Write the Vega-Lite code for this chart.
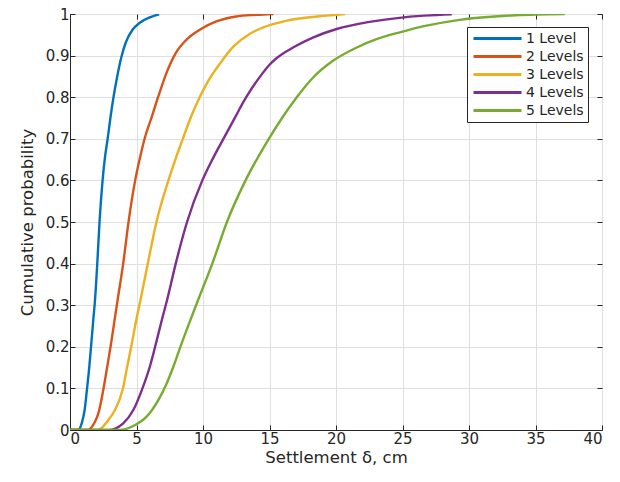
{
  "$schema": "https://vega.github.io/schema/vega-lite/v6.json",
  "width": 532,
  "height": 416,
  "autosize": {"type": "none"},
  "padding": {"left": 70, "top": 14, "right": 18, "bottom": 52},
  "background": "white",
  "config": {
    "font": "DejaVu Sans",
    "view": {"stroke": "#262626", "strokeWidth": 1},
    "axis": {
      "domainColor": "#262626",
      "tickColor": "#262626",
      "labelColor": "#262626",
      "titleColor": "#262626",
      "labelFontSize": 15,
      "titleFontSize": 16.5,
      "titleFontWeight": "normal",
      "gridColor": "#dfdfdf",
      "tickSize": -5,
      "labelPadding": 6
    }
  },
  "data": {"values": [
    {"x": 0, "p": 0, "s": "1 Level"},
    {"x": 0.6, "p": 0, "s": "1 Level"},
    {"x": 0.88, "p": 0.016, "s": "1 Level"},
    {"x": 1.1, "p": 0.048, "s": "1 Level"},
    {"x": 1.27, "p": 0.096, "s": "1 Level"},
    {"x": 1.45, "p": 0.152, "s": "1 Level"},
    {"x": 1.58, "p": 0.2, "s": "1 Level"},
    {"x": 1.75, "p": 0.264, "s": "1 Level"},
    {"x": 1.88, "p": 0.3125, "s": "1 Level"},
    {"x": 2.05, "p": 0.4, "s": "1 Level"},
    {"x": 2.22, "p": 0.5, "s": "1 Level"},
    {"x": 2.45, "p": 0.6, "s": "1 Level"},
    {"x": 2.62, "p": 0.653, "s": "1 Level"},
    {"x": 2.83, "p": 0.7, "s": "1 Level"},
    {"x": 3.05, "p": 0.753, "s": "1 Level"},
    {"x": 3.27, "p": 0.8, "s": "1 Level"},
    {"x": 3.55, "p": 0.85, "s": "1 Level"},
    {"x": 3.85, "p": 0.895, "s": "1 Level"},
    {"x": 4.2, "p": 0.932, "s": "1 Level"},
    {"x": 4.7, "p": 0.962, "s": "1 Level"},
    {"x": 5.25, "p": 0.979, "s": "1 Level"},
    {"x": 6.0, "p": 0.992, "s": "1 Level"},
    {"x": 6.7, "p": 0.999, "s": "1 Level"},
    {"x": 0, "p": 0, "s": "2 Levels"},
    {"x": 1.3, "p": 0, "s": "2 Levels"},
    {"x": 1.7, "p": 0.01, "s": "2 Levels"},
    {"x": 2.2, "p": 0.048, "s": "2 Levels"},
    {"x": 2.5, "p": 0.096, "s": "2 Levels"},
    {"x": 2.8, "p": 0.152, "s": "2 Levels"},
    {"x": 3.05, "p": 0.2, "s": "2 Levels"},
    {"x": 3.35, "p": 0.264, "s": "2 Levels"},
    {"x": 3.58, "p": 0.3125, "s": "2 Levels"},
    {"x": 4.0, "p": 0.4, "s": "2 Levels"},
    {"x": 4.4, "p": 0.5, "s": "2 Levels"},
    {"x": 4.9, "p": 0.6, "s": "2 Levels"},
    {"x": 5.3, "p": 0.66, "s": "2 Levels"},
    {"x": 5.65, "p": 0.705, "s": "2 Levels"},
    {"x": 6.12, "p": 0.75, "s": "2 Levels"},
    {"x": 6.62, "p": 0.8, "s": "2 Levels"},
    {"x": 7.25, "p": 0.858, "s": "2 Levels"},
    {"x": 7.95, "p": 0.906, "s": "2 Levels"},
    {"x": 8.75, "p": 0.938, "s": "2 Levels"},
    {"x": 9.75, "p": 0.962, "s": "2 Levels"},
    {"x": 11.0, "p": 0.982, "s": "2 Levels"},
    {"x": 12.5, "p": 0.994, "s": "2 Levels"},
    {"x": 14.0, "p": 0.998, "s": "2 Levels"},
    {"x": 15.3, "p": 1.0, "s": "2 Levels"},
    {"x": 0, "p": 0, "s": "3 Levels"},
    {"x": 2.1, "p": 0, "s": "3 Levels"},
    {"x": 2.88, "p": 0.024, "s": "3 Levels"},
    {"x": 3.38, "p": 0.048, "s": "3 Levels"},
    {"x": 3.95, "p": 0.096, "s": "3 Levels"},
    {"x": 4.3, "p": 0.152, "s": "3 Levels"},
    {"x": 4.6, "p": 0.2, "s": "3 Levels"},
    {"x": 4.98, "p": 0.264, "s": "3 Levels"},
    {"x": 5.3, "p": 0.3125, "s": "3 Levels"},
    {"x": 5.85, "p": 0.4, "s": "3 Levels"},
    {"x": 6.5, "p": 0.5, "s": "3 Levels"},
    {"x": 7.4, "p": 0.6, "s": "3 Levels"},
    {"x": 7.95, "p": 0.653, "s": "3 Levels"},
    {"x": 8.45, "p": 0.697, "s": "3 Levels"},
    {"x": 9.1, "p": 0.753, "s": "3 Levels"},
    {"x": 9.75, "p": 0.8, "s": "3 Levels"},
    {"x": 10.3, "p": 0.834, "s": "3 Levels"},
    {"x": 11.3, "p": 0.882, "s": "3 Levels"},
    {"x": 12.3, "p": 0.922, "s": "3 Levels"},
    {"x": 13.5, "p": 0.952, "s": "3 Levels"},
    {"x": 14.4, "p": 0.966, "s": "3 Levels"},
    {"x": 16.3, "p": 0.984, "s": "3 Levels"},
    {"x": 19.3, "p": 0.996, "s": "3 Levels"},
    {"x": 20.7, "p": 1.0, "s": "3 Levels"},
    {"x": 0, "p": 0, "s": "4 Levels"},
    {"x": 2.9, "p": 0, "s": "4 Levels"},
    {"x": 4.0, "p": 0.016, "s": "4 Levels"},
    {"x": 4.76, "p": 0.048, "s": "4 Levels"},
    {"x": 5.4, "p": 0.096, "s": "4 Levels"},
    {"x": 6.0, "p": 0.152, "s": "4 Levels"},
    {"x": 6.4, "p": 0.2, "s": "4 Levels"},
    {"x": 6.9, "p": 0.264, "s": "4 Levels"},
    {"x": 7.3, "p": 0.3125, "s": "4 Levels"},
    {"x": 7.95, "p": 0.4, "s": "4 Levels"},
    {"x": 8.8, "p": 0.5, "s": "4 Levels"},
    {"x": 9.95, "p": 0.6, "s": "4 Levels"},
    {"x": 10.75, "p": 0.653, "s": "4 Levels"},
    {"x": 11.35, "p": 0.689, "s": "4 Levels"},
    {"x": 12.3, "p": 0.745, "s": "4 Levels"},
    {"x": 13.25, "p": 0.8, "s": "4 Levels"},
    {"x": 14.3, "p": 0.85, "s": "4 Levels"},
    {"x": 15.0, "p": 0.878, "s": "4 Levels"},
    {"x": 15.5, "p": 0.893, "s": "4 Levels"},
    {"x": 16.8, "p": 0.92, "s": "4 Levels"},
    {"x": 18.3, "p": 0.944, "s": "4 Levels"},
    {"x": 20.05, "p": 0.964, "s": "4 Levels"},
    {"x": 22.3, "p": 0.98, "s": "4 Levels"},
    {"x": 25.1, "p": 0.992, "s": "4 Levels"},
    {"x": 28.7, "p": 0.999, "s": "4 Levels"},
    {"x": 0, "p": 0, "s": "5 Levels"},
    {"x": 3.7, "p": 0, "s": "5 Levels"},
    {"x": 4.9, "p": 0.012, "s": "5 Levels"},
    {"x": 5.76, "p": 0.032, "s": "5 Levels"},
    {"x": 6.64, "p": 0.072, "s": "5 Levels"},
    {"x": 7.27, "p": 0.112, "s": "5 Levels"},
    {"x": 7.77, "p": 0.152, "s": "5 Levels"},
    {"x": 8.3, "p": 0.2, "s": "5 Levels"},
    {"x": 9.0, "p": 0.26, "s": "5 Levels"},
    {"x": 9.6, "p": 0.31, "s": "5 Levels"},
    {"x": 10.7, "p": 0.4, "s": "5 Levels"},
    {"x": 11.8, "p": 0.5, "s": "5 Levels"},
    {"x": 13.2, "p": 0.6, "s": "5 Levels"},
    {"x": 14.8, "p": 0.692, "s": "5 Levels"},
    {"x": 17.05, "p": 0.8, "s": "5 Levels"},
    {"x": 18.3, "p": 0.848, "s": "5 Levels"},
    {"x": 19.8, "p": 0.888, "s": "5 Levels"},
    {"x": 21.6, "p": 0.92, "s": "5 Levels"},
    {"x": 23.1, "p": 0.94, "s": "5 Levels"},
    {"x": 24.8, "p": 0.956, "s": "5 Levels"},
    {"x": 26.8, "p": 0.972, "s": "5 Levels"},
    {"x": 29.3, "p": 0.986, "s": "5 Levels"},
    {"x": 33.5, "p": 0.997, "s": "5 Levels"},
    {"x": 37.2, "p": 1.0, "s": "5 Levels"}
  ]},
  "layer": [
    {
      "mark": {"type": "line", "strokeWidth": 2.4, "interpolate": "monotone", "clip": true},
      "encoding": {
        "x": {"field": "x", "type": "quantitative", "scale": {"domain": [0, 40], "nice": false}, "axis": {"title": "Settlement δ, cm", "values": [0,5,10,15,20,25,30,35,40], "titlePadding": 3}},
        "y": {"field": "p", "type": "quantitative", "scale": {"domain": [0, 1], "nice": false}, "axis": {"title": "Cumulative probability", "values": [0,0.1,0.2,0.3,0.4,0.5,0.6,0.7,0.8,0.9,1], "labelExpr": "datum.value == 0 ? '0' : datum.value == 1 ? '1' : format(datum.value, '.1f')", "titlePadding": 10}},
        "color": {"field": "s", "type": "nominal",
          "scale": {"domain": ["1 Level","2 Levels","3 Levels","4 Levels","5 Levels"], "range": ["#0072BD","#D95319","#EDB120","#7E2F8E","#77AC30"]},
          "legend": {"title": null, "orient": "none", "legendX": 397, "legendY": 13, "symbolType": "M-4,0H4", "symbolSize": 144, "symbolOffset": 19, "symbolStrokeWidth": 3, "labelFontSize": 14, "labelColor": "#262626", "strokeColor": "#262626", "fillColor": "white", "padding": 4, "rowPadding": 3, "labelOffset": 21, "labelLimit": 200}
        }
      }
    },
    {
      "mark": {"type": "line", "opacity": 0},
      "encoding": {
        "x": {"field": "x", "type": "quantitative", "scale": {"domain": [0, 40], "nice": false}, "axis": {"orient": "top", "title": null, "labels": false, "grid": false, "domain": false, "values": [0,5,10,15,20,25,30,35,40]}},
        "y": {"field": "p", "type": "quantitative", "scale": {"domain": [0, 1], "nice": false}, "axis": {"orient": "right", "title": null, "labels": false, "grid": false, "domain": false, "values": [0,0.1,0.2,0.3,0.4,0.5,0.6,0.7,0.8,0.9,1]}},
        "detail": {"field": "s"}
      }
    }
  ],
  "resolve": {"axis": {"x": "independent", "y": "independent"}}
}
